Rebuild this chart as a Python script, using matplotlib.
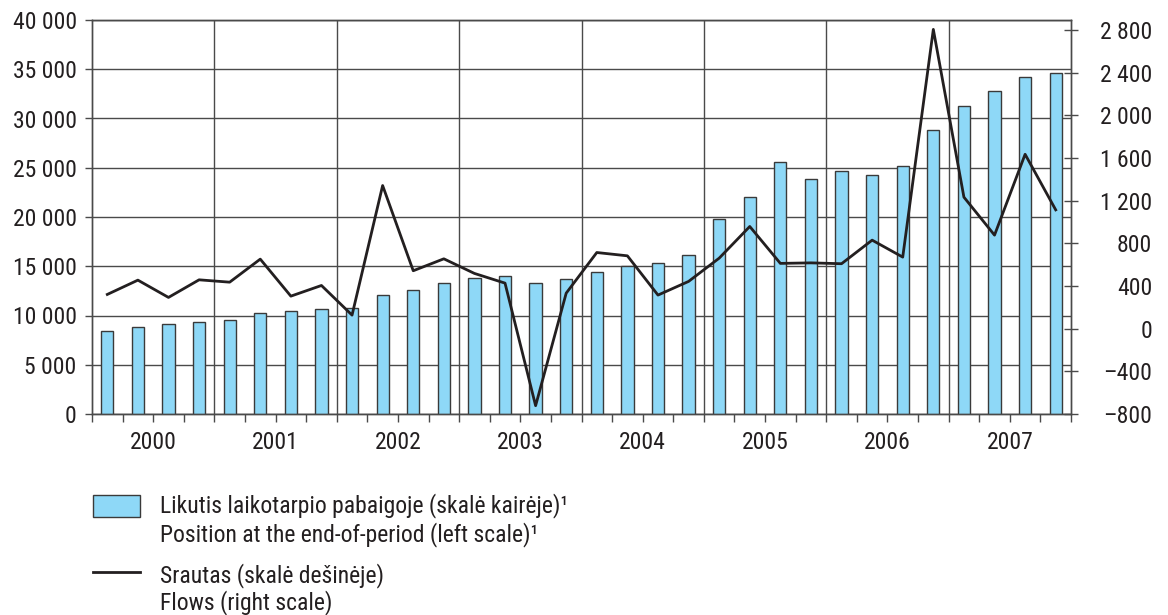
import matplotlib
matplotlib.use("Agg")
import matplotlib.pyplot as plt
from matplotlib import font_manager
from matplotlib.font_manager import FontProperties
from matplotlib.patches import Rectangle
from matplotlib.lines import Line2D
from matplotlib.ticker import FixedLocator, FuncFormatter
import numpy as np

years = ["2000", "2001", "2002", "2003", "2004", "2005", "2006", "2007"]
position = [8450, 8800, 9130, 9330, 9570, 10250, 10450, 10650,
            10790, 12040, 12580, 13250, 13800, 14030, 13250, 13690,
            14370, 15050, 15380, 16160, 19750, 22080, 25560, 23870,
            24650, 24240, 25160, 28810, 31280, 32760, 34180, 34660]
flows = [321, 455, 293, 458, 436, 652, 305, 405,
         127, 1342, 543, 655, 518, 427, -722, 333,
         714, 683, 315, 443, 661, 958, 612, 617,
         609, 830, 671, 2806, 1233, 877, 1635, 1114]
left_ticks = [0, 5000, 10000, 15000, 20000, 25000, 30000, 35000, 40000]
right_ticks = [-800, -400, 0, 400, 800, 1200, 1600, 2000, 2400, 2800]
legend_labels = ["Likutis laikotarpio pabaigoje (skalė kairėje)\u00b9",
                 "Position at the end-of-period (left scale)\u00b9",
                 "Srautas (skalė dešinėje)",
                 "Flows (right scale)"]

# pick a condensed sans font if one is installed
cands = []
for f in font_manager.fontManager.ttflist:
    s = (f.name + " " + f.fname).lower()
    low = f.fname.lower()
    if ("narrow" in s or "condensed" in s or f.stretch in ("condensed", "semi-condensed")) \
            and f.style == "normal" and "bold" not in low and "italic" not in low \
            and "light" not in low and "thin" not in low and "medium" not in low \
            and "black" not in low and "semi" not in low.split("/")[-1].replace("semicondensed", ""):
        cands.append(f)
def rank(f):
    s = (f.name + " " + f.fname).lower()
    for i, k in enumerate(["liberation sans narrow", "liberationsansnarrow", "roboto condensed",
                           "robotocondensed", "roboto_condensed", "opensans_condensed",
                           "opensans-condensed", "open sans condensed", "dejavusanscondensed"]):
        if k in s:
            return i
    return 99
cands.sort(key=rank)
if cands:
    FP = FontProperties(fname=cands[0].fname)
    FS = 17
else:
    FP = FontProperties(family=["Liberation Sans", "DejaVu Sans"])
    FS = 15
FP.set_size(FS)

TXT = "#231f20"
GRID = "#4a4a4a"

fig = plt.figure(figsize=(11.68, 6.15), dpi=100)
ax = fig.add_axes([92/1168, 1 - 414/615, (1071-92)/1168, (414-20)/615])
ax2 = ax.twinx()

n = len(position)
x = np.arange(n)
ax.bar(x, position, width=0.4, color="#8ed8f7", edgecolor="#3a3a3a",
       linewidth=1.0, zorder=3)
ax.set_xlim(-0.5, n - 0.5)
ax.set_ylim(0, 40000)
ax.yaxis.set_major_locator(FixedLocator(left_ticks))
fmt = lambda v, p: (("\u2013" if v < 0 else "") + f"{abs(v):,.0f}".replace(",", " "))
ax.yaxis.set_major_formatter(FuncFormatter(fmt))
ax.grid(axis="y", color=GRID, linewidth=1.0, zorder=1)
ax.set_axisbelow(True)
for b in np.arange(3.5, n - 1, 4):
    ax.axvline(b, color=GRID, linewidth=1.0, zorder=1)

# x ticks at quarter boundaries, year labels at centers
ax.xaxis.remove_overlapping_locs = False
ax.xaxis.set_major_locator(FixedLocator(np.arange(-0.5, n, 1.0)))
ax.xaxis.set_major_formatter(FuncFormatter(lambda v, p: ""))
ax.xaxis.set_minor_locator(FixedLocator(np.arange(1.5, n, 4)))
ax.xaxis.set_minor_formatter(FuncFormatter(lambda v, p: years[int(round((v - 1.5) / 4))]))
ax.tick_params(axis="x", which="major", length=6, width=1, color=GRID, direction="out")
ax.tick_params(axis="x", which="minor", length=0, pad=12, labelcolor=TXT)
ax.tick_params(axis="y", length=5, width=1, color=GRID, pad=6, labelcolor=TXT)

ax2.plot(x, flows, color="#231f20", linewidth=2.0, zorder=5)
ax2.set_ylim(-800, 2894)
ax2.yaxis.set_major_locator(FixedLocator(right_ticks))
ax2.yaxis.set_major_formatter(FuncFormatter(fmt))
ax2.tick_params(axis="y", direction="inout", length=10, width=1, color=GRID,
                labelcolor=TXT, pad=53.5)

for a in (ax, ax2):
    for s in a.spines.values():
        s.set_color(GRID)
        s.set_linewidth(1.0)

fig.canvas.draw()
for lab in ax.get_yticklabels() + ax.get_xticklabels(minor=True) + ax2.get_yticklabels():
    lab.set_fontproperties(FP)
for lab in ax2.get_yticklabels():
    lab.set_horizontalalignment("right")

# legend (manual)
fig.add_artist(Rectangle((93/1168, 1 - 517/615), 47/1168, 22/615,
                         transform=fig.transFigure, facecolor="#8ed8f7",
                         edgecolor="#3a3a3a", linewidth=1.0))
fig.add_artist(Line2D([93/1168, 140/1168], [1 - 572/615, 1 - 572/615],
                      transform=fig.transFigure, color="#231f20", linewidth=2.0))
for lbl, yy in zip(legend_labels, [506, 535, 576, 603]):
    fig.text(160/1168, 1 - yy/615, lbl, fontproperties=FP, color=TXT, va="center", ha="left")

fig.savefig("out.png", dpi=100)
